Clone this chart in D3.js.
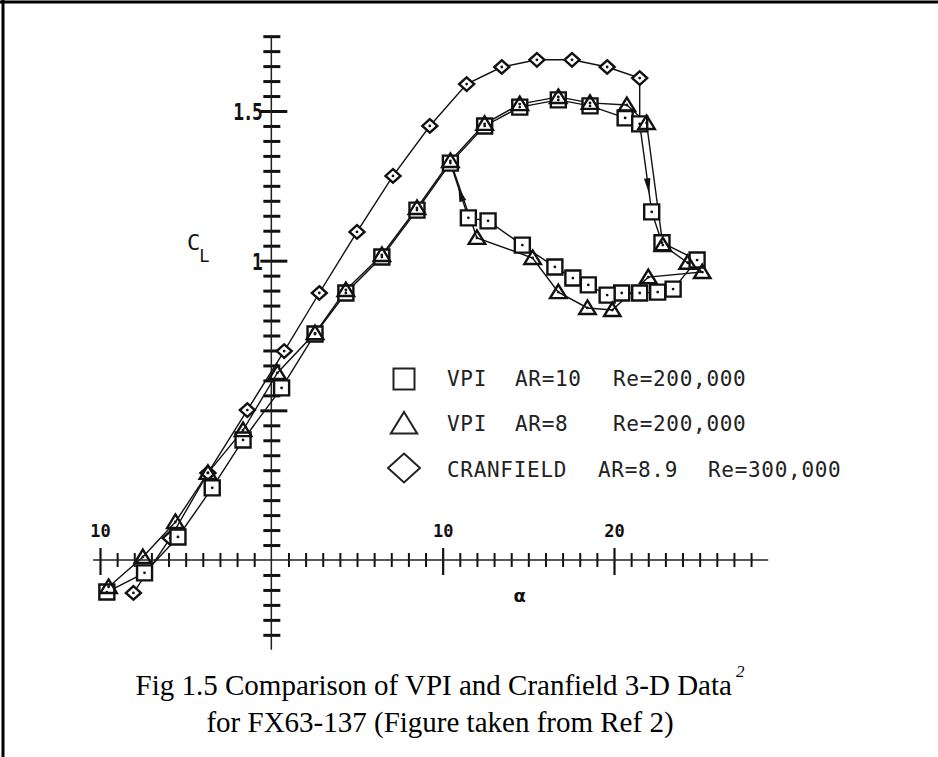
<!DOCTYPE html>
<html>
<head>
<meta charset="utf-8">
<script src="https://cdn.jsdelivr.net/npm/d3@7"></script>
<style>
  html, body { margin: 0; padding: 0; background: #fff; }
  svg { display: block; }
</style>
</head>
<body>
<svg id="chart" width="938" height="757"></svg>
<script>
// FX63-137 lift curves: angle of attack alpha (deg) against lift coefficient CL.
// Each VPI series is listed in test order: rising alpha on the attached branch,
// the stall drop, then falling alpha on the separated branch; the last point
// reattaches to the point at the given index.

// VPI  AR=10  Re=200,000
const vpi10Alpha = [-9.6, -7.4, -5.45, -3.45, -1.65, 0.6, 2.55, 4.35, 6.45, 8.5, 10.45,
  12.45, 14.5, 16.75, 18.6, 20.65, 21.5,
  22.2, 22.8, 24.85,
  23.45, 22.55, 21.5, 20.45, 19.6, 18.5, 17.6, 16.55, 14.65, 12.65, 11.5];
const vpi10Cl = [-0.107, -0.043, 0.077, 0.241, 0.401, 0.575, 0.755, 0.892, 1.012, 1.169, 1.326,
  1.45, 1.513, 1.537, 1.517, 1.477, 1.457,
  1.163, 1.06, 1.002,
  0.905, 0.895, 0.892, 0.892, 0.885, 0.919, 0.942, 0.979, 1.052, 1.133, 1.143];
const vpi10Reattach = 10;
const vpi10StallSeg = 16;   // arrow on the drop from this point to the next

// VPI  AR=8  Re=200,000
const vpi8Alpha = [-9.5, -7.5, -5.6, -3.7, -1.65, 0.35, 2.55, 4.35, 6.45, 8.5, 10.45,
  12.45, 14.5, 16.75, 18.6, 20.75, 21.9,
  22.85, 24.3, 25.15,
  22.0, 19.9, 18.45, 16.75, 15.25, 12.0];
const vpi8Cl = [-0.09, 0.01, 0.127, 0.291, 0.434, 0.625, 0.758, 0.902, 1.019, 1.176, 1.333,
  1.457, 1.523, 1.547, 1.527, 1.52, 1.46,
  1.052, 0.993, 0.962,
  0.945, 0.835, 0.842, 0.895, 1.009, 1.076];
const vpi8Reattach = 10;

// CRANFIELD  AR=8.9  Re=300,000
const cranAlpha = [-8.05, -5.9, -3.7, -1.4, 0.75, 2.8, 5.0, 7.1, 9.25, 11.4, 13.45, 15.5, 17.55, 19.6, 21.5];
const cranCl = [-0.11, 0.073, 0.291, 0.501, 0.698, 0.892, 1.096, 1.283, 1.45, 1.59, 1.647, 1.671, 1.671, 1.647, 1.61];
const cranDropTo = 16;      // Cranfield drop lands on this VPI AR=10 point

// Axes
const xAxisExtent = [-10.4, 29];
const yAxisExtent = [-0.3, 1.75];
const xTickStep = 1;
const xMajorTicks = [-10, 10, 20];
const xTickLabels = ["10", "10", "20"];
const yTickStep = 0.05;
const yMajorTicks = [0.5, 1, 1.5];
const yLabelTicks = [1, 1.5];
const yTickLabels = ["1", "1.5"];

// Legend
const legendSymbols = ["square", "triangle", "diamond"];
const legendCols = [
  ["VPI", "VPI", "CRANFIELD"],
  ["AR=10", "AR=8", "AR=8.9"],
  ["Re=200,000", "Re=200,000", "Re=300,000"]
];

const captionLines = ["Fig 1.5 Comparison of VPI and Cranfield 3-D Data", "for FX63-137 (Figure taken from Ref 2)"];
const captionNote = "2";

// ---------------------------------------------------------------
const svg = d3.select("#chart");
const x = d3.scaleLinear().domain([-10, 20]).range([100, 614]);
const y = d3.scaleLinear().domain([0, 1.5]).range([560, 111]);

// page frame (left and top rules)
svg.append("line").attr("x1", 3).attr("x2", 3).attr("y1", 0).attr("y2", 757)
  .attr("stroke", "#000").attr("stroke-width", 3);
svg.append("line").attr("x1", 0).attr("x2", 938).attr("y1", 2).attr("y2", 2)
  .attr("stroke", "#000").attr("stroke-width", 3);

const plot = svg.append("g");

// ---- x axis (alpha) ----
const nX = Math.round((28 - (-10)) / xTickStep);
const xTicks = d3.range(0, nX + 1).map(i => -10 + i * xTickStep).filter(v => v !== 0);
const xAxis = d3.axisBottom(x).tickValues(xTicks).tickSize(0)
  .tickFormat(d => {
    const k = xMajorTicks.indexOf(d);
    return k >= 0 ? xTickLabels[k] : "";
  });
const gx = plot.append("g").attr("transform", `translate(0,${y(0)})`).call(xAxis);
gx.select(".domain").remove();
gx.selectAll(".tick line")
  .attr("y1", d => xMajorTicks.includes(d) ? -12 : -7)
  .attr("y2", d => xMajorTicks.includes(d) ? 15 : 7)
  .attr("stroke", "#111").attr("stroke-width", d => xMajorTicks.includes(d) ? 2.2 : 2);
gx.selectAll(".tick text")
  .attr("y", -23).attr("dy", 0)
  .attr("font-family", "DejaVu Sans Mono").attr("font-weight", "bold")
  .attr("font-size", 17).attr("fill", "#111");
plot.append("line")
  .attr("x1", x(xAxisExtent[0])).attr("x2", x(xAxisExtent[1]))
  .attr("y1", y(0)).attr("y2", y(0))
  .attr("stroke", "#222").attr("stroke-width", 1.5);

// ---- y axis (CL) ----
const yTicks = d3.range(-5, 36).map(i => +(i * yTickStep).toFixed(2)).filter(v => v !== 0);
const yAxis = d3.axisLeft(y).tickValues(yTicks).tickSize(0)
  .tickFormat(d => {
    const k = yLabelTicks.indexOf(d);
    return k >= 0 ? yTickLabels[k] : "";
  });
const gy = plot.append("g").attr("transform", `translate(${x(0)},0)`).call(yAxis);
gy.select(".domain").remove();
gy.selectAll(".tick line")
  .attr("x1", d => yMajorTicks.includes(d) ? -11 : -8)
  .attr("x2", d => yMajorTicks.includes(d) ? 16 : 9)
  .attr("stroke", "#111").attr("stroke-width", 3);
gy.selectAll(".tick text")
  .attr("x", -10).attr("dy", "0.36em")
  .attr("transform", "scale(1,1.3)")
  .attr("font-family", "DejaVu Sans Mono").attr("font-weight", "bold")
  .attr("font-size", 18).attr("fill", "#111")
  .attr("letter-spacing", -1.5);
plot.append("line")
  .attr("x1", x(0)).attr("x2", x(0))
  .attr("y1", y(yAxisExtent[0])).attr("y2", y(yAxisExtent[1]))
  .attr("stroke", "#222").attr("stroke-width", 1.5);

// axis titles
const cl = plot.append("text").attr("x", 187).attr("y", 250)
  .attr("font-family", "DejaVu Sans Mono").attr("font-size", 22).attr("fill", "#111");
cl.append("tspan").text("C");
cl.append("tspan").attr("font-size", 17).attr("dy", 12).attr("dx", -1).text("L");
plot.append("text").attr("x", x(14.5)).attr("y", 602).attr("text-anchor", "middle")
  .attr("font-family", "DejaVu Sans").attr("font-weight", "bold")
  .attr("font-size", 18).attr("fill", "#111").text("α");

// ---- curves ----
const toPts = (a, c) => a.map((v, i) => [x(v), y(c[i])]);
const line = d3.line();
const pts10 = toPts(vpi10Alpha, vpi10Cl);
const pts8 = toPts(vpi8Alpha, vpi8Cl);
const ptsC = toPts(cranAlpha, cranCl);

const curves = plot.append("g").attr("fill", "none").attr("stroke", "#111").attr("stroke-width", 1.4);
curves.append("path").attr("d", line(pts10.concat([pts10[vpi10Reattach]])));
curves.append("path").attr("d", line(pts8.concat([pts8[vpi8Reattach]])));
curves.append("path").attr("d", line(ptsC.concat([pts10[cranDropTo]])));

// direction arrows on the hysteresis loop
function arrowOn(p0, p1, t, len, half) {
  const dx = p1[0] - p0[0], dy = p1[1] - p0[1];
  const L = Math.hypot(dx, dy), ux = dx / L, uy = dy / L;
  const tip = [p0[0] + dx * t, p0[1] + dy * t];
  const base = [tip[0] - ux * len, tip[1] - uy * len];
  const a = [base[0] - uy * half, base[1] + ux * half];
  const b = [base[0] + uy * half, base[1] - ux * half];
  plot.append("path").attr("d", `M${tip}L${a}L${b}Z`).attr("fill", "#111");
}
arrowOn(pts10[vpi10StallSeg], pts10[vpi10StallSeg + 1], 0.8, 16, 3.2);
arrowOn(pts10[pts10.length - 1], pts10[vpi10Reattach], 0.55, 14, 3.6);

// ---- markers ----
const sym = {
  square: s => `M${-s / 2},${-s / 2}h${s}v${s}h${-s}Z`,
  triangle: s => `M0,${-s * 0.5}L${s * 0.55},${s * 0.4}L${-s * 0.55},${s * 0.4}Z`,
  diamond: s => `M0,${-s * 0.45}L${s / 2},0L0,${s * 0.45}L${-s / 2},0Z`
};
function markers(pts, kind, size, fill) {
  const g = plot.append("g");
  const m = g.selectAll("g").data(pts).join("g")
    .attr("transform", d => `translate(${d[0]},${d[1]})`);
  m.append("path").attr("d", sym[kind](size))
    .attr("fill", fill).attr("stroke", "#111").attr("stroke-width", 2.4);
  m.append("circle").attr("r", 1.4).attr("fill", "#111");
}
markers(ptsC, "diamond", 15, "#fff");
markers(pts10, "square", 15, "#fff");
markers(pts8, "triangle", 15, "none");

// ---- legend ----
const legend = plot.append("g");
const rowY = [379, 424, 468];
const baseY = [386, 431, 477];
legendSymbols.forEach((k, i) => {
  const size = k === "square" ? 21 : k === "triangle" ? 24 : 32;
  legend.append("path").attr("transform", `translate(404,${rowY[i]})`)
    .attr("d", sym[k](size)).attr("fill", "none")
    .attr("stroke", "#222").attr("stroke-width", 2);
});
const colX = [[447, 447, 447], [515, 515, 598], [613, 613, 708]];
legendCols.forEach((col, c) => {
  col.forEach((txt, r) => {
    legend.append("text").attr("x", colX[c][r]).attr("y", baseY[r])
      .attr("font-family", "DejaVu Sans Mono").attr("font-size", 21)
      .attr("letter-spacing", 0.7).attr("fill", "#222").text(txt);
  });
});

// ---- caption ----
svg.append("clipPath").attr("id", "capclip").append("rect")
  .attr("x", 0).attr("y", 640).attr("width", 938).attr("height", 99);
const cap = svg.append("g").attr("clip-path", "url(#capclip)");
const capY = [695, 732];
captionLines.forEach((t, i) => {
  const tx = cap.append("text").attr("x", 440).attr("y", capY[i])
    .attr("text-anchor", "middle")
    .attr("font-family", "Liberation Serif, Times New Roman, serif")
    .attr("font-size", 29).attr("fill", "#000");
  tx.append("tspan").text(t);
  if (i === 0) {
    tx.append("tspan").attr("font-size", 17).attr("font-style", "italic")
      .attr("dy", -18).attr("dx", 4).text(captionNote);
  }
});
</script>
</body>
</html>
